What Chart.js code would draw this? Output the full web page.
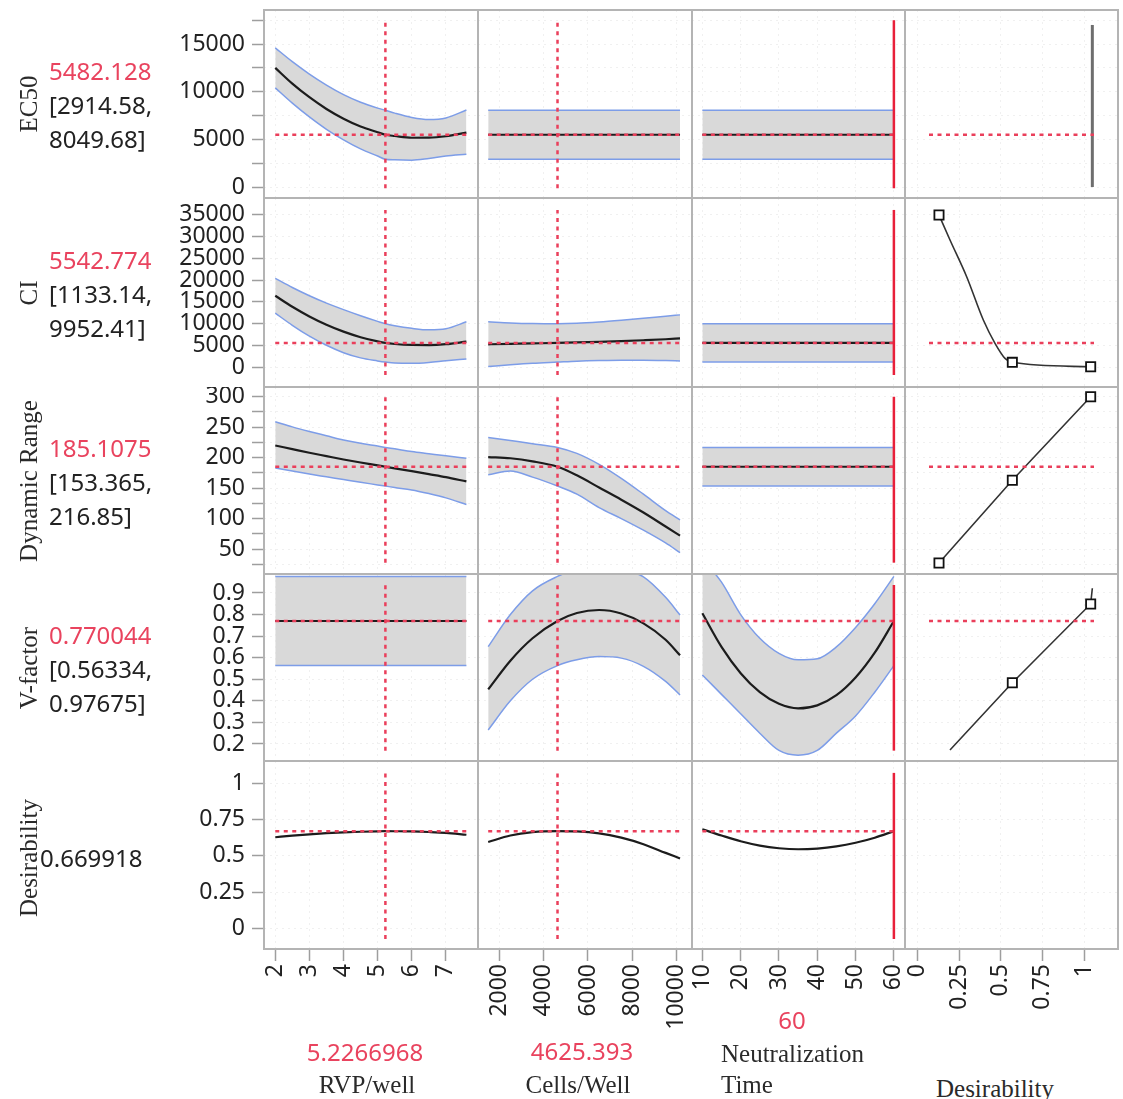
<!DOCTYPE html>
<html>
<head>
<meta charset="utf-8">
<title>Prediction Profiler</title>
<script src="https://cdn.jsdelivr.net/npm/chart.js@4.4.1/dist/chart.umd.min.js"></script>
<style>
  body { margin: 0; background: #fff; }
  #wrap { position: relative; width: 1123px; height: 1099px; overflow: hidden; }
  canvas { position: absolute; }
  .t { position: absolute; white-space: nowrap; font-family: 'Noto Sans', sans-serif; font-size: 24px; color: #222; line-height: 1; z-index: 5; }
  .red { color: #e9435e; }
  .serif { font-family: 'Liberation Serif', serif; font-size: 25px; color: #2a2a2a; }
  .frame { position: absolute; background: #b4b4b4; z-index: 4; }
</style>
</head>
<body>
<div id="wrap"></div>
<script>
// factors (columns) and responses (rows)
var factorNames = ['RVP/well', 'Cells/Well', 'Neutralization Time'];
var factorSettings = [5.2266968, 4625.393, 60];
var responseNames = ['EC50', 'CI', 'Dynamic Range', 'V-factor', 'Desirability'];
var predicted = [5482.128, 5542.774, 185.1075, 0.770044, 0.669918];
var lowerCI = [2914.58, 1133.14, 153.365, 0.56334];
var upperCI = [8049.68, 9952.41, 216.85, 0.97675];

// RVP/well traces
var rvpX = [2, 2.5, 3, 3.5, 4, 4.5, 5, 5.2266968, 5.5, 6, 6.5, 7, 7.6];
var ec50Rvp   = [12500, 10850, 9420, 8190, 7170, 6350, 5750, 5482.128, 5350, 5170, 5180, 5330, 5700];
var ec50RvpHi = [14600, 13150, 11850, 10700, 9700, 8900, 8280, 8049.68, 7750, 7300, 7080, 7250, 8080];
var ec50RvpLo = [10400, 8800, 7350, 6050, 4950, 4000, 3250, 2914.58, 2850, 2820, 3000, 3250, 3450];
var ciRvp   = [16400, 13870, 11640, 9730, 8140, 6860, 5890, 5542.774, 5300, 5080, 5050, 5250, 5830];
var ciRvpHi = [20400, 18300, 16400, 14700, 13200, 11800, 10500, 9952.41, 9500, 8900, 8550, 8800, 10400];
var ciRvpLo = [12400, 9600, 7100, 5000, 3300, 2100, 1400, 1133.14, 900, 850, 1050, 1450, 1850];
var drRvp   = [220, 214, 208, 202.5, 197, 192, 187.3, 185.1075, 182.5, 178, 173, 168, 161];
var drRvpHi = [259, 250.5, 243, 236, 229, 223.5, 219, 216.85, 214.5, 210, 206.5, 203, 199];
var drRvpLo = [183, 178, 173, 168.5, 164, 159.5, 155.3, 153.365, 151, 147, 141, 134, 123];
var desRvp  = [0.628, 0.639, 0.648, 0.656, 0.662, 0.666, 0.669, 0.669918, 0.6695, 0.668, 0.664, 0.658, 0.645];

// Cells/Well traces
var cellsX = [1500, 2500, 3500, 4625.393, 5500, 6500, 7500, 8500, 9500, 10150];
var ciCells   = [5230, 5330, 5430, 5542.774, 5650, 5800, 5970, 6160, 6390, 6600];
var ciCellsHi = [10400, 10150, 10000, 9952.41, 10050, 10350, 10750, 11200, 11700, 12000];
var ciCellsLo = [100, 500, 850, 1133.14, 1350, 1500, 1580, 1580, 1500, 1400];
var drCells   = [201, 199, 194, 185.1075, 171, 151, 131, 110, 87, 72];
var drCellsHi = [233, 228, 223, 216.85, 207, 189, 166, 140, 113, 98];
var drCellsLo = [172, 178, 168, 153.365, 140, 118, 100, 81, 60, 44];
var vfCells   = [0.453, 0.586, 0.690, 0.770044, 0.807, 0.821, 0.805, 0.759, 0.683, 0.611];
var vfCellsHi = [0.651, 0.80, 0.91, 0.97675, 1.01, 1.02, 1.01, 0.975, 0.88, 0.798];
var vfCellsLo = [0.265, 0.40, 0.50, 0.56334, 0.59, 0.605, 0.598, 0.56, 0.49, 0.427];
var desCells  = [0.595, 0.64, 0.663, 0.669918, 0.668, 0.655, 0.625, 0.58, 0.52, 0.482];

// Neutralization Time traces
var timeX = [10, 15, 20, 25, 30, 35, 40, 45, 50, 55, 60];
var vfTime   = [0.806, 0.650, 0.528, 0.440, 0.386, 0.365, 0.379, 0.426, 0.508, 0.623, 0.770044];
var vfTimeHi = [1.06, 0.95, 0.80, 0.69, 0.62, 0.59, 0.595, 0.65, 0.74, 0.85, 0.97675];
var vfTimeLo = [0.52, 0.43, 0.34, 0.25, 0.17, 0.148, 0.17, 0.25, 0.33, 0.44, 0.56334];
var desTime  = [0.683, 0.64, 0.60, 0.57, 0.552, 0.545, 0.55, 0.565, 0.59, 0.625, 0.669918];

// flat traces (response does not depend on the factor)
var rvpSpan = [2, 7.6], cellsSpan = [1500, 10150], timeSpan = [10, 60];
var ec50Flat = [5482.128, 5482.128], ec50FlatHi = [8049.68, 8049.68], ec50FlatLo = [2914.58, 2914.58];
var ciFlat = [5542.774, 5542.774], ciFlatHi = [9952.41, 9952.41], ciFlatLo = [1133.14, 1133.14];
var drFlat = [185.1075, 185.1075], drFlatHi = [216.85, 216.85], drFlatLo = [153.365, 153.365];
var vfFlat = [0.770044, 0.770044], vfFlatHi = [0.97675, 0.97675], vfFlatLo = [0.56334, 0.56334];

// desirability functions (x = desirability, y = response)
var ec50DesX = [1.05, 1.05], ec50DesY = [0, 17000];
var ciDesX = [0.13, 0.196, 0.296, 0.396, 0.466, 0.526, 0.57, 1.04];
var ciDesY = [35000, 29240, 20790, 10820, 5460, 2000, 1080, 50];
var ciDesMarks = [0, 6, 7];
var drDesX = [0.13, 0.57, 1.04], drDesY = [27, 163, 300], drDesMarks = [0, 1, 2];
var vfDesX = [0.196, 0.57, 1.04, 1.05], vfDesY = [0.172, 0.484, 0.849, 0.922], vfDesMarks = [1, 2];
var desSpan = [0.07, 1.06];

// axes
var yMin = [-1150, -4600, 9, 0.121, -0.143];
var yMax = [18570, 38900, 316, 0.988, 1.154];
var xMin = [1.67, 1040, 7.3, -0.074];
var xMax = [7.94, 10690, 62.9, 1.204];
var yTicks = [
  [0, 2500, 5000, 7500, 10000, 12500, 15000, 17500],
  [0, 5000, 10000, 15000, 20000, 25000, 30000, 35000],
  [25, 50, 75, 100, 125, 150, 175, 200, 225, 250, 275, 300],
  [0.2, 0.3, 0.4, 0.5, 0.6, 0.7, 0.8, 0.9],
  [0, 0.25, 0.5, 0.75, 1]
];
var yLabels = [
  [0, 5000, 10000, 15000],
  [0, 5000, 10000, 15000, 20000, 25000, 30000, 35000],
  [50, 100, 150, 200, 250, 300],
  [0.2, 0.3, 0.4, 0.5, 0.6, 0.7, 0.8, 0.9],
  [0, 0.25, 0.5, 0.75, 1]
];
var xTicks = [
  [2, 3, 4, 5, 6, 7],
  [2000, 4000, 6000, 8000, 10000],
  [10, 20, 30, 40, 50, 60],
  [0, 0.25, 0.5, 0.75, 1]
];
// vertical extent of the crosshair lines per row
var crossLo = [-130, -1840, 27.6, 0.169, -0.074];
var crossHi = [17500, 36150, 300, 0.937, 1.072];

var colX = [264, 478, 692, 905, 1118];
var rowY = [10, 198, 387, 574, 761, 949];
var Y_AXIS_W = 264, X_AXIS_H = 110;
var BLUE = '#7d9de8', BAND = '#d9d9d9', RED = '#ea3f5b';

var cells = [
  [
    { x: rvpX, mid: ec50Rvp, hi: ec50RvpHi, lo: ec50RvpLo },
    { x: cellsSpan, mid: ec50Flat, hi: ec50FlatHi, lo: ec50FlatLo },
    { x: timeSpan, mid: ec50Flat, hi: ec50FlatHi, lo: ec50FlatLo },
    { desX: ec50DesX, desY: ec50DesY, marks: [], color: '#6e6e6e', width: 3 }
  ],
  [
    { x: rvpX, mid: ciRvp, hi: ciRvpHi, lo: ciRvpLo },
    { x: cellsX, mid: ciCells, hi: ciCellsHi, lo: ciCellsLo },
    { x: timeSpan, mid: ciFlat, hi: ciFlatHi, lo: ciFlatLo },
    { desX: ciDesX, desY: ciDesY, marks: ciDesMarks, color: '#333', width: 1.6, smooth: true }
  ],
  [
    { x: rvpX, mid: drRvp, hi: drRvpHi, lo: drRvpLo },
    { x: cellsX, mid: drCells, hi: drCellsHi, lo: drCellsLo },
    { x: timeSpan, mid: drFlat, hi: drFlatHi, lo: drFlatLo },
    { desX: drDesX, desY: drDesY, marks: drDesMarks, color: '#333', width: 1.6 }
  ],
  [
    { x: rvpSpan, mid: vfFlat, hi: vfFlatHi, lo: vfFlatLo },
    { x: cellsX, mid: vfCells, hi: vfCellsHi, lo: vfCellsLo },
    { x: timeX, mid: vfTime, hi: vfTimeHi, lo: vfTimeLo },
    { desX: vfDesX, desY: vfDesY, marks: vfDesMarks, color: '#333', width: 1.6 }
  ],
  [
    { x: rvpX, mid: desRvp },
    { x: cellsX, mid: desCells },
    { x: timeX, mid: desTime },
    null
  ]
];
var factorSpans = [rvpSpan, cellsSpan, timeSpan, desSpan];

function pts(xs, ys) {
  return xs.map(function (x, i) { return { x: x, y: ys[i] }; });
}

function cellDatasets(r, c) {
  var cell = cells[r][c], ds = [];
  if (cell && cell.lo) {
    ds.push({ data: pts(cell.x, cell.lo), borderColor: BLUE, borderWidth: 1.5, order: 3, cubicInterpolationMode: 'monotone' });
    ds.push({ data: pts(cell.x, cell.hi), borderColor: BLUE, borderWidth: 1.5, order: 3, cubicInterpolationMode: 'monotone',
      fill: '-1', backgroundColor: BAND });
  }
  if (cell && cell.mid) {
    ds.push({ data: pts(cell.x, cell.mid), borderColor: '#1c1c1c', borderWidth: 2.2, order: 2, cubicInterpolationMode: 'monotone' });
  }
  if (cell && cell.desX) {
    ds.push({
      data: pts(cell.desX, cell.desY), borderColor: cell.color, borderWidth: cell.width, order: 2,
      cubicInterpolationMode: cell.smooth ? 'monotone' : 'default', tension: 0,
      pointStyle: 'rect', pointBorderColor: '#111', pointBackgroundColor: '#fff', pointBorderWidth: 1.8,
      pointRadius: cell.desX.map(function (v, i) { return cell.marks.indexOf(i) >= 0 ? 6.5 : 0; })
    });
  }
  if (!(r === 4 && c === 3)) {
    var sp = factorSpans[c];
    ds.push({ data: pts(sp, [predicted[r], predicted[r]]), borderColor: RED, borderWidth: 2.5,
      borderDash: [4, 4.5], order: 1, tension: 0 });
  }
  if (c < 3) {
    ds.push({ data: pts([factorSettings[c], factorSettings[c]], [crossLo[r], crossHi[r]]),
      borderColor: c === 2 ? '#e8203a' : RED, borderWidth: 2.5,
      borderDash: c === 2 ? [] : [4, 4.5], order: 0, tension: 0 });
  }
  return ds;
}

function scaleCfg(axis, show, ticks, labelled, min, max, size) {
  return {
    type: 'linear', min: min, max: max,
    afterBuildTicks: function (s) { s.ticks = ticks.map(function (v) { return { value: v }; }); },
    afterFit: function (s) {
      if (axis === 'x') { s.height = size; } else { s.width = size; }
      // keep the plot area exactly on the panel frame
      s.paddingTop = 0; s.paddingBottom = 0; s.paddingLeft = 0; s.paddingRight = 0;
    },
    grid: { color: 'rgba(0,0,0,0.06)', drawTicks: show, tickLength: 12, tickColor: '#9e9e9e', tickWidth: 1.5, lineWidth: 1 },
    border: { display: false, dash: [2, 4] },
    ticks: {
      display: show, autoSkip: false, padding: axis === 'x' ? 3 : 7, color: '#222',
      font: { family: 'Noto Sans', size: 23 },
      maxRotation: axis === 'x' ? 90 : 0, minRotation: axis === 'x' ? 90 : 0,
      callback: function (v) { return labelled.indexOf(v) >= 0 ? String(v) : ''; }
    }
  };
}

var wrap = document.getElementById('wrap');

for (var r = 0; r < 5; r++) {
  for (var c = 0; c < 4; c++) {
    var padL = c === 0 ? Y_AXIS_W : 0;
    var padB = r === 4 ? X_AXIS_H : 0;
    var cv = document.createElement('canvas');
    cv.width = colX[c + 1] - colX[c] + padL;
    cv.height = rowY[r + 1] - rowY[r] + padB;
    cv.style.left = (colX[c] - padL) + 'px';
    cv.style.top = rowY[r] + 'px';
    wrap.appendChild(cv);
    new Chart(cv.getContext('2d'), {
      type: 'line',
      data: { datasets: cellDatasets(r, c) },
      options: {
        responsive: false, animation: false, events: [],
        layout: { padding: 0, autoPadding: false },
        plugins: { legend: { display: false }, tooltip: { enabled: false } },
        elements: { point: { radius: 0 }, line: { fill: false } },
        scales: {
          x: scaleCfg('x', r === 4, xTicks[c], xTicks[c], xMin[c], xMax[c], padB),
          y: scaleCfg('y', c === 0, yTicks[r], yLabels[r], yMin[r], yMax[r], padL)
        }
      }
    });
  }
}

// panel frames
colX.forEach(function (x) {
  var d = document.createElement('div');
  d.className = 'frame';
  d.style.cssText = 'left:' + (x - 1) + 'px;top:' + (rowY[0] - 1) + 'px;width:2px;height:' + (rowY[5] - rowY[0] + 2) + 'px';
  wrap.appendChild(d);
});
rowY.forEach(function (y) {
  var d = document.createElement('div');
  d.className = 'frame';
  d.style.cssText = 'left:' + (colX[0] - 1) + 'px;top:' + (y - 1) + 'px;width:' + (colX[4] - colX[0] + 2) + 'px;height:2px';
  wrap.appendChild(d);
});

function addText(str, x, y, cls, mode) {
  var d = document.createElement('div');
  d.className = 't ' + (cls || '');
  d.textContent = str;
  d.style.left = x + 'px';
  d.style.top = y + 'px';
  if (mode === 'rot') d.style.transform = 'translate(-50%,-50%) rotate(-90deg)';
  else if (mode === 'center') d.style.transform = 'translate(-50%,-50%)';
  else d.style.transform = 'translateY(-50%)';
  wrap.appendChild(d);
}

// response names and current values
for (var i = 0; i < 5; i++) {
  var mid = (rowY[i] + rowY[i + 1]) / 2;
  addText(responseNames[i], 28, i === 4 ? mid + 3 : mid, 'serif', 'rot');
  if (i < 4) {
    addText(String(predicted[i]), 49, mid - 33, 'red');
    addText('[' + lowerCI[i] + ',', 49, mid + 1, '');
    addText(upperCI[i] + ']', 49, mid + 35, '');
  } else {
    addText(String(predicted[i]), 40, mid + 3, '');
  }
}

// factor names and settings
addText(String(factorSettings[0]), 365, 1052, 'red', 'center');
addText(factorNames[0], 367, 1084, 'serif', 'center');
addText(String(factorSettings[1]), 582, 1051, 'red', 'center');
addText(factorNames[1], 578, 1084, 'serif', 'center');
addText(String(factorSettings[2]), 792, 1020, 'red', 'center');
addText('Neutralization', 721, 1053, 'serif');
addText('Time', 721, 1084, 'serif');
addText('Desirability', 995, 1088, 'serif', 'center');
</script>
</body>
</html>
